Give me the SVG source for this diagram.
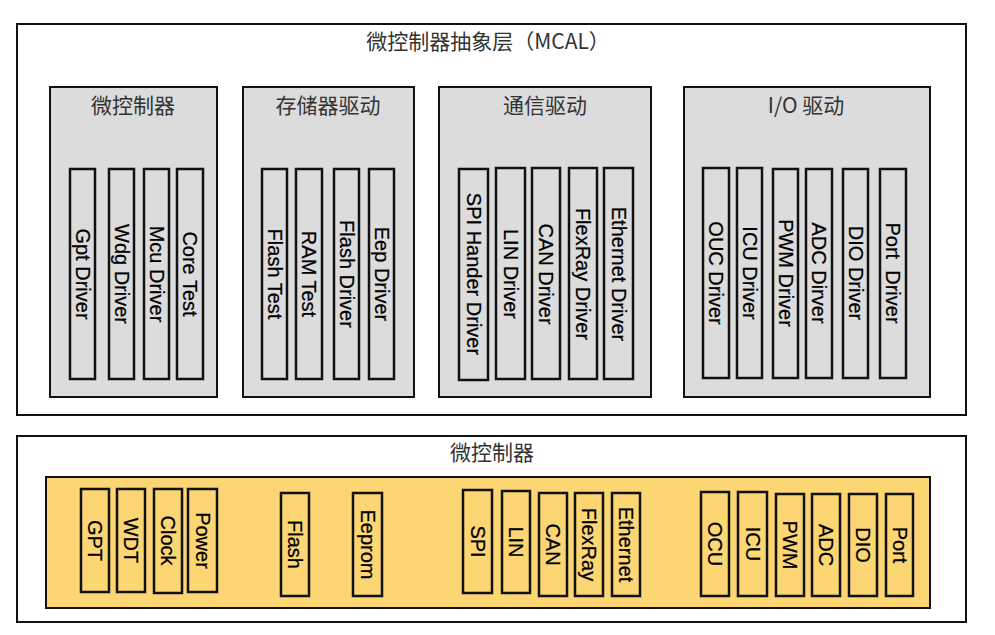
<svg xmlns="http://www.w3.org/2000/svg" width="995" height="635" viewBox="0 0 995 635">
<style>
.frame{fill:#ffffff;stroke:#111;stroke-width:2}
.grp{fill:#dcdcdc;stroke:#111;stroke-width:2}
.chip{fill:#fcd672;stroke:#111;stroke-width:2}
.bar{fill:none;stroke:#111;stroke-width:2.5}
.title{font-family:"Noto Sans CJK SC","Liberation Sans",sans-serif;font-size:21px;fill:#333;text-anchor:middle}
.lbl{font-family:"Liberation Sans",Arial,sans-serif;font-size:20px;fill:#000;stroke:#000;stroke-width:0.25;text-anchor:middle;dominant-baseline:central}
</style>
<rect width="995" height="635" fill="#ffffff"/>

<g id="mcal">
<rect class="frame" x="17" y="24" width="949" height="391"/>
<text class="title" x="488" y="49">微控制器抽象层（MCAL）</text>
</g>

<g id="grp-mcu">
<rect class="grp" x="50" y="87" width="167" height="310"/>
<text class="title" x="133" y="113">微控制器</text>
<g id="gpt-driver"><rect class="bar" x="70" y="169" width="25" height="210"/><text class="lbl" transform="translate(82.5,274) rotate(90)">Gpt Driver</text></g>
<g id="wdg-driver"><rect class="bar" x="109" y="169" width="25" height="210"/><text class="lbl" transform="translate(121.5,274) rotate(90)">Wdg Driver</text></g>
<g id="mcu-driver"><rect class="bar" x="144" y="169" width="25" height="210"/><text class="lbl" transform="translate(156.5,274) rotate(90)">Mcu Driver</text></g>
<g id="core-test"><rect class="bar" x="177" y="169" width="26" height="210"/><text class="lbl" transform="translate(190,274) rotate(90)">Core Test</text></g>
</g>

<g id="grp-mem">
<rect class="grp" x="243" y="87" width="171" height="310"/>
<text class="title" x="328" y="113">存储器驱动</text>
<g id="flash-test"><rect class="bar" x="262" y="169" width="25" height="210"/><text class="lbl" transform="translate(274.5,274) rotate(90)">Flash Test</text></g>
<g id="ram-test"><rect class="bar" x="296" y="169" width="26" height="210"/><text class="lbl" transform="translate(309,274) rotate(90)">RAM Test</text></g>
<g id="flash-driver"><rect class="bar" x="334" y="169" width="25" height="210"/><text class="lbl" transform="translate(346.5,274) rotate(90)">Flash Driver</text></g>
<g id="eep-driver"><rect class="bar" x="369" y="169" width="25" height="210"/><text class="lbl" transform="translate(381.5,274) rotate(90)">Eep Driver</text></g>
</g>

<g id="grp-com">
<rect class="grp" x="439" y="87" width="212" height="310"/>
<text class="title" x="545" y="113">通信驱动</text>
<g id="spi-driver"><rect class="bar" x="459" y="169" width="29" height="211"/><text class="lbl" transform="translate(473.5,274) rotate(90)">SPI Hander Driver</text></g>
<g id="lin-driver"><rect class="bar" x="496" y="168" width="29" height="211"/><text class="lbl" transform="translate(510.5,274) rotate(90)">LIN Driver</text></g>
<g id="can-driver"><rect class="bar" x="532" y="168" width="28" height="211"/><text class="lbl" transform="translate(546,274) rotate(90)">CAN Driver</text></g>
<g id="flexray-driver"><rect class="bar" x="569" y="168" width="28" height="211"/><text class="lbl" transform="translate(583,274) rotate(90)">FlexRay Driver</text></g>
<g id="ethernet-driver"><rect class="bar" x="604" y="168" width="29" height="211"/><text class="lbl" transform="translate(618.5,274) rotate(90)">Ethernet Driver</text></g>
</g>

<g id="grp-io">
<rect class="grp" x="684" y="87" width="246" height="310"/>
<text class="title" x="806" y="113">I/O 驱动</text>
<g id="ouc-driver"><rect class="bar" x="703" y="168" width="26" height="210"/><text class="lbl" transform="translate(716,273) rotate(90)">OUC Driver</text></g>
<g id="icu-driver"><rect class="bar" x="737" y="168" width="25" height="210"/><text class="lbl" transform="translate(749.5,273) rotate(90)">ICU Driver</text></g>
<g id="pwm-driver"><rect class="bar" x="773" y="169" width="25" height="209"/><text class="lbl" transform="translate(785.5,273) rotate(90)">PWM Driver</text></g>
<g id="adc-driver"><rect class="bar" x="806" y="169" width="26" height="209"/><text class="lbl" transform="translate(819,273) rotate(90)">ADC Dirver</text></g>
<g id="dio-driver"><rect class="bar" x="843" y="169" width="25" height="209"/><text class="lbl" transform="translate(855.5,273) rotate(90)">DIO Driver</text></g>
<g id="port-driver"><rect class="bar" x="880" y="169" width="26" height="209"/><text class="lbl" transform="translate(893,273) rotate(90)" xml:space="preserve">Port  Driver</text></g>
</g>

<g id="mcu-hw">
<rect class="frame" x="17" y="436" width="949" height="186"/>
<text class="title" x="492" y="460">微控制器</text>
<rect class="chip" x="46" y="477" width="884" height="131"/>
</g>

<g id="hw-modules">
<g id="hw-gpt"><rect class="bar" x="81" y="489" width="28" height="103"/><text class="lbl" transform="translate(95,540.5) rotate(90)">GPT</text></g>
<g id="hw-wdt"><rect class="bar" x="117" y="489" width="28" height="103"/><text class="lbl" transform="translate(131,540.5) rotate(90)">WDT</text></g>
<g id="hw-clock"><rect class="bar" x="154" y="489" width="28" height="104"/><text class="lbl" transform="translate(168,540.5) rotate(90)">Clock</text></g>
<g id="hw-power"><rect class="bar" x="188" y="489" width="29" height="103"/><text class="lbl" transform="translate(202.5,540.5) rotate(90)">Power</text></g>
<g id="hw-flash"><rect class="bar" x="281" y="493" width="28" height="103"/><text class="lbl" transform="translate(295,544.5) rotate(90)">Flash</text></g>
<g id="hw-eeprom"><rect class="bar" x="353" y="493" width="29" height="103"/><text class="lbl" transform="translate(367.5,544.5) rotate(90)">Eeprom</text></g>
<g id="hw-spi"><rect class="bar" x="463" y="490" width="29" height="103"/><text class="lbl" transform="translate(477.5,541.5) rotate(90)">SPI</text></g>
<g id="hw-lin"><rect class="bar" x="502" y="491" width="28" height="102"/><text class="lbl" transform="translate(516,542) rotate(90)">LIN</text></g>
<g id="hw-can"><rect class="bar" x="539" y="493" width="28" height="103"/><text class="lbl" transform="translate(553,544.5) rotate(90)">CAN</text></g>
<g id="hw-flexray"><rect class="bar" x="575" y="493" width="28" height="103"/><text class="lbl" transform="translate(589,544.5) rotate(90)">FlexRay</text></g>
<g id="hw-ethernet"><rect class="bar" x="612" y="493" width="28" height="103"/><text class="lbl" transform="translate(626,544.5) rotate(90)">Ethernet</text></g>
<g id="hw-ocu"><rect class="bar" x="701" y="492" width="28" height="104"/><text class="lbl" transform="translate(715,544) rotate(90)">OCU</text></g>
<g id="hw-icu"><rect class="bar" x="738" y="492" width="29" height="104"/><text class="lbl" transform="translate(752.5,544) rotate(90)">ICU</text></g>
<g id="hw-pwm"><rect class="bar" x="776" y="494" width="28" height="102"/><text class="lbl" transform="translate(790,545) rotate(90)">PWM</text></g>
<g id="hw-adc"><rect class="bar" x="812" y="494" width="28" height="102"/><text class="lbl" transform="translate(826,545) rotate(90)">ADC</text></g>
<g id="hw-dio"><rect class="bar" x="849" y="494" width="28" height="102"/><text class="lbl" transform="translate(863,545) rotate(90)">DIO</text></g>
<g id="hw-port"><rect class="bar" x="886" y="494" width="27" height="102"/><text class="lbl" transform="translate(899.5,545) rotate(90)">Port</text></g>
</g>

<g id="connectors"></g>
</svg>
